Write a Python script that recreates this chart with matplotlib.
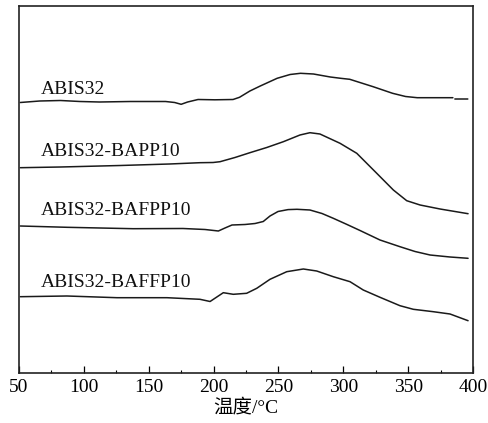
import numpy as np
import matplotlib
matplotlib.use("Agg")
import matplotlib.pyplot as plt
from matplotlib.ticker import MultipleLocator

plt.rcParams['font.family'] = ['Liberation Serif', 'Noto Sans CJK SC']

# DSC traces: temperature (°C) and heat flow (a.u., curves offset vertically)
t_abis32 = [51, 66, 82, 97, 112, 136, 163, 170, 175, 180, 188, 201, 215, 220, 228,
            236, 249, 259, 267, 277, 290, 298, 305, 314, 323, 338, 348, 357, 382,
            384.5, np.nan, 386, 396]
h_abis32 = [270.5, 272, 272.5, 271.5, 271, 271.5, 271.5, 270.5, 268.7, 271, 273.5,
            273.2, 273.5, 275.7, 282, 287, 294.7, 298.5, 299.7, 299, 296, 294.7,
            293.7, 290, 286.3, 279.7, 276.5, 275.3, 275.3, 275.3, np.nan, 274, 274]

t_bapp = [51, 82, 128, 166, 189.5, 199.6, 205, 216.5, 228, 241, 253.8, 266.6, 274.3,
          282, 297.5, 310.4, 325.8, 338.6, 348.9, 359.2, 374.6, 396.2]
h_bapp = [205.3, 206, 207.5, 209, 210.3, 210.5, 211.3, 215.5, 220.3, 225.5, 231.3,
          238, 240.3, 239, 229.7, 219.7, 199.7, 183, 172.3, 168, 164, 159.3]

t_bafpp = [51, 87, 138, 176.4, 193.4, 203.7, 208.8, 214.2, 224.2, 232, 238.3, 243.5,
           249.7, 257.4, 264.3, 274.3, 283.6, 292.3, 302.9, 312.9, 328.3, 343.7,
           355.3, 366.9, 382.3, 396.2]
h_bafpp = [147, 145.7, 144.3, 144.5, 143.5, 142, 145, 148, 148.5, 149.5, 151.5, 157,
           161.5, 163.4, 163.7, 163, 159.5, 154.7, 148.5, 142.5, 133, 126.3, 121.5,
           118, 116, 114.7]

t_baffp = [51, 87, 125.6, 164.1, 189.5, 197.3, 207.5, 215.2, 225.5, 233.3, 243.5,
           256.4, 269.2, 279.5, 292.3, 305.2, 315.4, 328.3, 343.7, 354, 369.4, 382.3,
           396.2]
h_baffp = [76.3, 77, 75.3, 75.3, 73.7, 71.5, 80.3, 78.7, 79.7, 84.7, 93.7, 101.3, 104,
           102, 96.3, 91.3, 83, 75.7, 67.3, 63.7, 61.3, 59, 52.3]

series = [
    ("ABIS32", t_abis32, h_abis32, 284),
    ("ABIS32-BAPP10", t_bapp, h_bapp, 222),
    ("ABIS32-BAFPP10", t_bafpp, h_bafpp, 162.5),
    ("ABIS32-BAFFP10", t_baffp, h_baffp, 91),
]

fig = plt.figure(figsize=(4.89, 4.23), dpi=100)
ax = fig.add_axes([19 / 489, 1 - 373 / 423, 454 / 489, 367 / 423])

for name, t, h, label_y in series:
    ax.plot(t, h, color='#1a1a1a', lw=1.1, solid_joinstyle='round',
            solid_capstyle='round')
    ax.text(66.5, label_y, name, fontsize=14, va='center', ha='left', color='#111111')

ax.set_xlim(50, 400)
ax.set_ylim(0, 367)
ax.xaxis.set_major_locator(MultipleLocator(50))
ax.xaxis.set_minor_locator(MultipleLocator(25))
ax.set_yticks([])
ax.tick_params(axis='x', which='major', direction='in', length=5, width=0.9,
               labelsize=14, pad=4)
ax.tick_params(axis='x', which='minor', direction='in', length=2.5, width=0.8)
for s in ax.spines.values():
    s.set_linewidth(1.2)
    s.set_color('#222222')

ax.set_xlabel("温度/°C", fontsize=14, labelpad=2)

fig.savefig("out.png", dpi=100)
